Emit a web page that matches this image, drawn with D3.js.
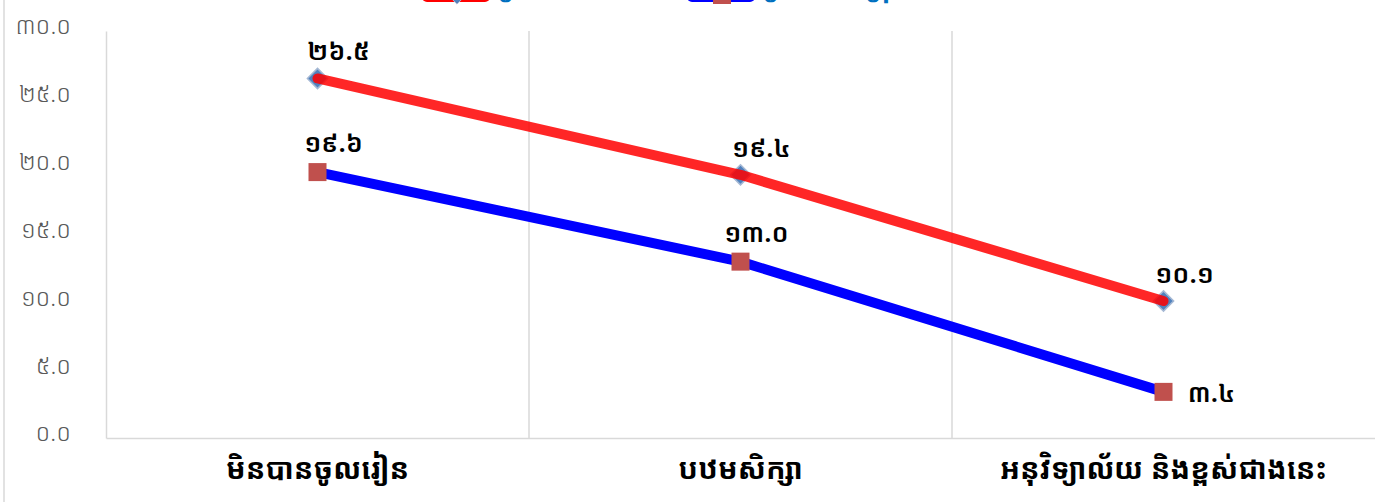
<!DOCTYPE html>
<html>
<head>
<meta charset="utf-8">
<script src="https://cdn.jsdelivr.net/npm/d3@7"></script>
<style>
  body { margin: 0; background: #fff; }
  svg { display: block; }
</style>
</head>
<body>
<svg id="chart" width="1375" height="502"></svg>
<script>
// categories + series
var categories = ["មិនបានចូលរៀន", "បឋមសិក្សា", "អនុវិទ្យាល័យ និងខ្ពស់ជាងនេះ"]
var seriesNames = ["ប្រជាជនជនបទ", "ប្រជាជនទីក្រុង"]
var redValues = [26.5, 19.4, 10.1]
var blueValues = [19.6, 13.0, 3.4]
var yTicks = [0, 5, 10, 15, 20, 25, 30]

// khmer digits for labels
var khDigits = "០១២៣៤៥៦៧៨៩"
function kh(n) {
    return n.toFixed(1).replace(/[0-9]/g, function (c) { return khDigits[+c] })
}

var svg = d3.select("#chart")
var font = "'Noto Sans Khmer', 'Khmer OS', 'Noto Sans', sans-serif"

// plot box (don't call it "top", that's window.top)
var mLeft = 106, mRight = 1375, mTop = 31, mBottom = 438

var x = d3.scaleBand().domain(categories).range([mLeft, mRight])
var y = d3.scaleLinear().domain([0, 30]).range([mBottom, mTop])
var cx = function (c) { return x(c) + x.bandwidth() / 2 }

// outer chart border (only the left edge is visible)
svg.append("line")
    .attr("x1", 4).attr("x2", 4).attr("y1", 0).attr("y2", 502)
    .attr("stroke", "#d9d9d9").attr("stroke-width", 1.5)

// vertical gridlines between categories
svg.append("g").selectAll("line").data(categories.slice(1)).join("line")
    .attr("x1", function (d) { return x(d) }).attr("x2", function (d) { return x(d) })
    .attr("y1", mTop).attr("y2", mBottom)
    .attr("stroke", "#d9d9d9").attr("stroke-width", 1.5)

// axes
var yAxis = d3.axisLeft(y).tickValues(yTicks).tickSize(0).tickPadding(35).tickFormat(kh)
var gy = svg.append("g").attr("transform", "translate(" + mLeft + ",0)").call(yAxis)
gy.select(".domain").attr("stroke", "#d9d9d9").attr("stroke-width", 1.5)
gy.selectAll("text")
    .attr("font-family", font).attr("font-size", 24).attr("font-weight", 300)
    .attr("fill", "#595959")
    .attr("dy", "0.12em")

var xAxis = d3.axisBottom(x).tickSize(0).tickPadding(20)
var gx = svg.append("g").attr("transform", "translate(0," + mBottom + ")").call(xAxis)
gx.select(".domain").attr("stroke", "#d9d9d9").attr("stroke-width", 1.5)
gx.selectAll("text")
    .attr("font-family", font).attr("font-size", 29).attr("font-weight", "bold")
    .attr("fill", "#000")

var line = d3.line()
    .x(function (d, i) { return cx(categories[i]) })
    .y(function (d) { return y(d) })

var diamond = d3.symbol().type(d3.symbolDiamond2).size(260)

// red series: diamonds under the line
svg.append("g").selectAll("path").data(redValues).join("path")
    .attr("d", diamond)
    .attr("transform", function (d, i) { return "translate(" + cx(categories[i]) + "," + y(d) + ")" })
    .attr("fill", "#4F81BD").attr("stroke", "#a5b8d4").attr("stroke-width", 1.5)

svg.append("path").datum(redValues)
    .attr("d", line)
    .attr("fill", "none").attr("stroke", "#FF0000").attr("stroke-opacity", 0.85)
    .attr("stroke-width", 10).attr("stroke-linecap", "round").attr("stroke-linejoin", "round")

// blue series: squares on top
svg.append("path").datum(blueValues)
    .attr("d", line)
    .attr("fill", "none").attr("stroke", "#0000FF")
    .attr("stroke-width", 10).attr("stroke-linejoin", "round")

svg.append("g").selectAll("rect").data(blueValues).join("rect")
    .attr("x", function (d, i) { return cx(categories[i]) - 9 })
    .attr("y", function (d) { return y(d) - 9 })
    .attr("width", 18).attr("height", 18)
    .attr("fill", "#C0504D")

// data labels
svg.append("g").selectAll("text").data(redValues).join("text")
    .attr("x", function (d, i) { return cx(categories[i]) + 21 })
    .attr("y", function (d) { return y(d) - 18 })
    .attr("text-anchor", "middle")
    .attr("font-family", font).attr("font-size", 26).attr("font-weight", 600)
    .text(kh)

svg.append("g").selectAll("text").data(blueValues).join("text")
    .attr("x", function (d, i) { return i == 2 ? cx(categories[i]) + 48 : cx(categories[i]) + 16 })
    .attr("y", function (d, i) { return i == 2 ? y(d) + 10 : y(d) - 20 })
    .attr("text-anchor", "middle")
    .attr("font-family", font).attr("font-size", 26).attr("font-weight", 600)
    .text(kh)

// legend, cut off by the top edge of the picture
var legend = svg.append("g")
var lg = [
    { name: seriesNames[0], color: "#FF0000", x: 427 },
    { name: seriesNames[1], color: "#0000FF", x: 692 }
]
legend.selectAll("line").data(lg).join("line")
    .attr("x1", function (d) { return d.x }).attr("x2", function (d) { return d.x + 58 })
    .attr("y1", -3).attr("y2", -3)
    .attr("stroke", function (d) { return d.color }).attr("stroke-width", 10)
    .attr("stroke-linecap", "round")
legend.append("path")
    .attr("d", diamond)
    .attr("transform", "translate(457,-6)")
    .attr("fill", "#4F81BD").attr("stroke", "#a5b8d4")
legend.append("rect")
    .attr("x", 713).attr("y", -14).attr("width", 18).attr("height", 18)
    .attr("fill", "#C0504D")
legend.selectAll("text").data(lg).join("text")
    .attr("x", function (d) { return d.x + 71 })
    .attr("y", -4)
    .attr("font-family", font).attr("font-size", 26).attr("font-weight", "bold")
    .attr("fill", "#0070C0")
    .text(function (d) { return d.name })
</script>
</body>
</html>
